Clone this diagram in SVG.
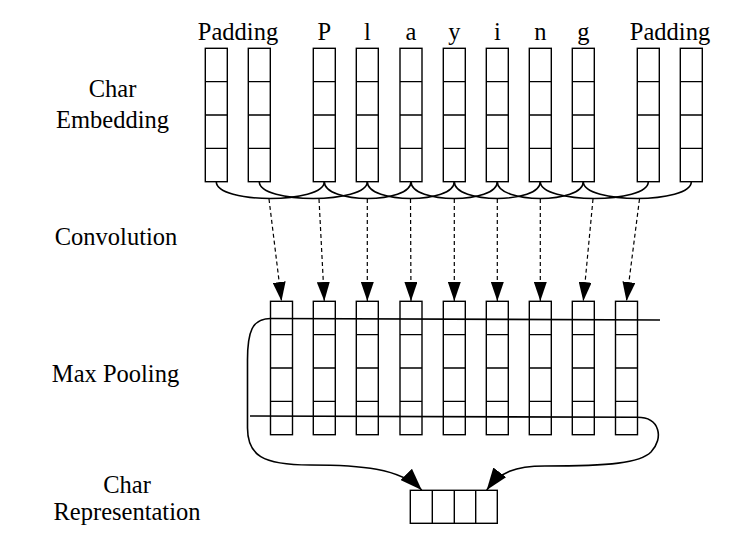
<svg xmlns="http://www.w3.org/2000/svg" xmlns:xlink="http://www.w3.org/1999/xlink" width="737" height="551" viewBox="0 0 737 551">
<style>
.lbl{font-family:"Liberation Serif","Times New Roman",serif;font-size:24.5px;fill:#000;text-anchor:middle}
.box{fill:#fff;stroke:#000;stroke-width:1.4}
.ln{fill:none;stroke:#000;stroke-width:1.4}
.cv{fill:none;stroke:#000;stroke-width:1.6}
.dash{fill:none;stroke:#000;stroke-width:1.2;stroke-dasharray:4 3}
</style>
<defs>
<g id="col">
<rect class="box" x="0" y="0" width="22" height="133.4"/>
<path class="ln" d="M0,33.35H22M0,66.7H22M0,100.05H22"/>
</g>
<marker id="ah" viewBox="0 0 19 13" refX="19" refY="6.5" markerWidth="19" markerHeight="13" markerUnits="userSpaceOnUse" orient="auto">
<path d="M0,0L19,6.5L0,13z" fill="#000" stroke="none"/>
</marker>
<marker id="ah2" viewBox="0 0 22 16" refX="22" refY="8" markerWidth="22" markerHeight="16" markerUnits="userSpaceOnUse" orient="auto">
<path d="M0,0L22,8L0,16z" fill="#000" stroke="none"/>
</marker>
</defs>
<rect width="737" height="551" fill="#fff"/>

<g id="labels">
<text class="lbl" x="112.5" y="96.5">Char</text>
<text class="lbl" x="112.5" y="128">Embedding</text>
<text class="lbl" x="116" y="245">Convolution</text>
<text class="lbl" x="115.5" y="381.5">Max Pooling</text>
<text class="lbl" x="127" y="492.5">Char</text>
<text class="lbl" x="127" y="520">Representation</text>
</g>

<g id="emb-pad1"><use xlink:href="#col" x="205.3" y="48.3"/></g>
<g id="emb-pad2"><use xlink:href="#col" x="248.3" y="48.3"/></g>
<g id="emb-pad-label1"><text class="lbl" x="238" y="40">Padding</text></g>
<g id="emb-P"><use xlink:href="#col" x="313.3" y="48.3"/><text class="lbl" x="324.3" y="40">P</text></g>
<g id="emb-l"><use xlink:href="#col" x="356.3" y="48.3"/><text class="lbl" x="367.3" y="40">l</text></g>
<g id="emb-a"><use xlink:href="#col" x="400" y="48.3"/><text class="lbl" x="411" y="40">a</text></g>
<g id="emb-y"><use xlink:href="#col" x="443.3" y="48.3"/><text class="lbl" x="454.3" y="40">y</text></g>
<g id="emb-i"><use xlink:href="#col" x="486.3" y="48.3"/><text class="lbl" x="497.3" y="40">i</text></g>
<g id="emb-n"><use xlink:href="#col" x="529.3" y="48.3"/><text class="lbl" x="540.3" y="40">n</text></g>
<g id="emb-g"><use xlink:href="#col" x="572.3" y="48.3"/><text class="lbl" x="583.3" y="40">g</text></g>
<g id="emb-pad3"><use xlink:href="#col" x="637.3" y="48.3"/></g>
<g id="emb-pad4"><use xlink:href="#col" x="680.3" y="48.3"/></g>
<g id="emb-pad-label2"><text class="lbl" x="670" y="40">Padding</text></g>

<g id="out1"><use xlink:href="#col" x="270.5" y="301.3"/></g>
<g id="out2"><use xlink:href="#col" x="313.3" y="301.3"/></g>
<g id="out3"><use xlink:href="#col" x="356.3" y="301.3"/></g>
<g id="out4"><use xlink:href="#col" x="400" y="301.3"/></g>
<g id="out5"><use xlink:href="#col" x="443.3" y="301.3"/></g>
<g id="out6"><use xlink:href="#col" x="486.3" y="301.3"/></g>
<g id="out7"><use xlink:href="#col" x="529.3" y="301.3"/></g>
<g id="out8"><use xlink:href="#col" x="572.3" y="301.3"/></g>
<g id="out9"><use xlink:href="#col" x="615.5" y="301.3"/></g>

<g id="char-rep">
<rect class="box" x="410.3" y="490.3" width="87" height="33"/>
<path class="ln" d="M432.3,490.3V523.3M454.3,490.3V523.3M475.7,490.3V523.3"/>
</g>

<g id="connectors">
<path class="cv" d="M216.3,181.7C216.3,204 324.3,204 324.3,181.7"/>
<path class="cv" d="M259.3,181.7C259.3,204 367.3,204 367.3,181.7"/>
<path class="cv" d="M324.3,181.7C324.3,204 411,204 411,181.7"/>
<path class="cv" d="M367.3,181.7C367.3,204 454.3,204 454.3,181.7"/>
<path class="cv" d="M411,181.7C411,204 497.3,204 497.3,181.7"/>
<path class="cv" d="M454.3,181.7C454.3,204 540.3,204 540.3,181.7"/>
<path class="cv" d="M497.3,181.7C497.3,204 583.3,204 583.3,181.7"/>
<path class="cv" d="M540.3,181.7C540.3,204 648.3,204 648.3,181.7"/>
<path class="cv" d="M583.3,181.7C583.3,204 691.3,204 691.3,181.7"/>

<path class="dash" d="M269,199L281.5,301" marker-end="url(#ah)"/>
<path class="dash" d="M319,199L324.3,301" marker-end="url(#ah)"/>
<path class="dash" d="M367.3,199L367.3,301" marker-end="url(#ah)"/>
<path class="dash" d="M410.5,199L411,301" marker-end="url(#ah)"/>
<path class="dash" d="M454.3,199L454.3,301" marker-end="url(#ah)"/>
<path class="dash" d="M497.3,199L497.3,301" marker-end="url(#ah)"/>
<path class="dash" d="M540.3,199L540.3,301" marker-end="url(#ah)"/>
<path class="dash" d="M593,199L583.3,301" marker-end="url(#ah)"/>
<path class="dash" d="M639.5,199L626.5,301" marker-end="url(#ah)"/>

<path class="cv" d="M270.5,318.5L660,320"/>
<path class="cv" d="M250,416L637.3,417.3"/>
<path class="cv" d="M270.5,318.5C252,318.5 247.5,332 247.5,360L247.5,428C247.5,455 262,465 310,465C360,465 400,468 421.7,490" marker-end="url(#ah2)"/>
<path class="cv" d="M637.3,417.3C660,417.3 664,438 651,452C640,463 610,466 545,466C515,466 500,472 486.7,490" marker-end="url(#ah2)"/>
</g>
</svg>
